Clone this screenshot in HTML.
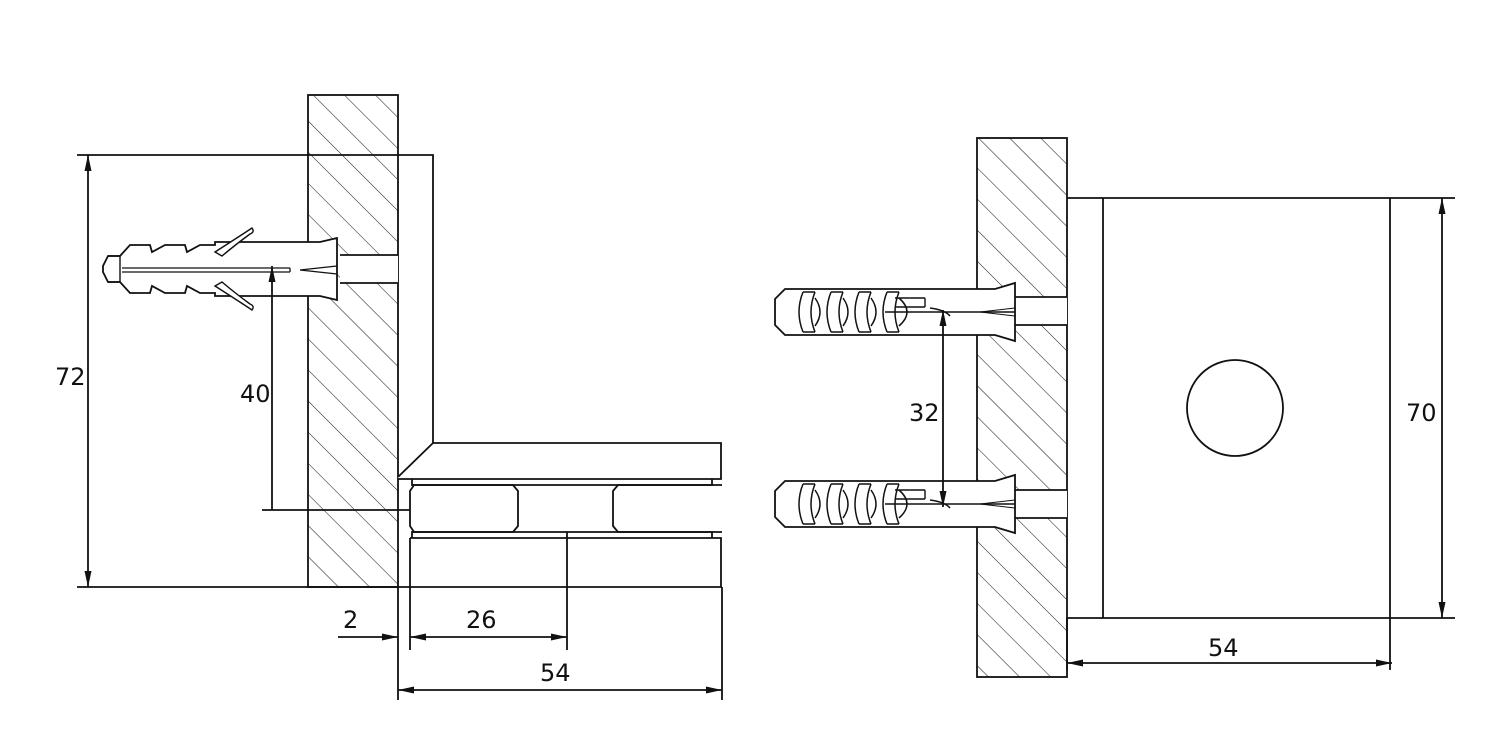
<!DOCTYPE html>
<html><head><style>body{margin:0;background:#fff}svg{display:block}text{font-family:"DejaVu Sans","Liberation Sans",sans-serif;font-size:24px;fill:#111}</style></head>
<body>
<svg width="1488" height="755" viewBox="0 0 1488 755" xmlns="http://www.w3.org/2000/svg">
<defs>
<pattern id="h" patternUnits="userSpaceOnUse" width="22" height="22" patternTransform="rotate(-45)">
<line x1="0" y1="0" x2="0" y2="22" stroke="#222" stroke-width="1.1"/>
</pattern>
<marker id="a" viewBox="0 0 16 7" refX="16" refY="3.5" markerWidth="16" markerHeight="7" orient="auto-start-reverse" markerUnits="userSpaceOnUse">
<path d="M0,0 L16,3.5 L0,7 z" fill="#111"/></marker>
<g id="dr">
<path d="M0,-23 L210,-23 L230,-29 L230,29 L210,23 L0,23 L-10,13 L-10,-13 Z" fill="#fff" stroke="#111" stroke-width="1.8"/>
<line x1="110" y1="-14" x2="140" y2="-14" stroke="#111" stroke-width="1.4"/>
<line x1="110" y1="-5" x2="140" y2="-5" stroke="#111" stroke-width="1.4"/>
<line x1="140" y1="-14" x2="140" y2="-5" stroke="#111" stroke-width="1.4"/>
<line x1="100" y1="0" x2="230" y2="0" stroke="#111" stroke-width="1.4"/>
<path d="M195,0 L230,-4 M195,0 L230,4" stroke="#111" stroke-width="1"/>
<g fill="none" stroke="#111" stroke-width="1.5">
<path d="M18,-20 Q10,0 18,20 M30,-20 Q22,0 30,20 M18,-20 L30,-20 M18,20 L30,20 M30,-14 Q40,0 30,14"/>
<path d="M46,-20 Q38,0 46,20 M58,-20 Q50,0 58,20 M46,-20 L58,-20 M46,20 L58,20 M58,-14 Q68,0 58,14"/>
<path d="M74,-20 Q66,0 74,20 M86,-20 Q78,0 86,20 M74,-20 L86,-20 M74,20 L86,20 M86,-14 Q96,0 86,14"/>
<path d="M102,-20 Q94,0 102,20 M114,-20 Q106,0 114,20 M102,-20 L114,-20 M102,20 L114,20 M114,-14 Q130,0 114,14"/>
<path d="M145,-4 Q160,-2 165,4"/>
</g>
</g>
</defs>
<g stroke="#111" stroke-width="1.8" fill="none">
<rect x="308" y="95" width="90" height="492" fill="url(#h)"/>
<rect x="340" y="255" width="58" height="28" fill="#fff" stroke="none"/>
<path d="M340,255 H398 M340,283 H398"/>
<path d="M120,256 L130,245 L150,245 L152,252 L165,245 L185,245 L187,252 L200,245 L215,245 L215,242 L320,242 L337,238 L337,300 L320,296 L215,296 L215,293 L200,293 L187,286 L185,293 L165,293 L152,286 L150,293 L130,293 L120,282 L108,282 L103,272 L103,266 L108,256 Z" fill="#fff"/>
<path d="M108,256 L120,256 M108,282 L120,282 M120,256 V282" stroke-width="1.4"/>
<path d="M215,252 Q240,236 252,228 Q255,232 250,234 Q235,245 222,256 Z" fill="#fff" stroke-width="1.4"/>
<path d="M215,286 Q240,302 252,310 Q255,306 250,304 Q235,293 222,282 Z" fill="#fff" stroke-width="1.4"/>
<path d="M122,268 H290 M122,272 H290 M290,268 V272 M300,270 L337,266 M300,270 L337,274" stroke-width="1.3"/>
<path d="M77,155 H433 V445"/>
<path d="M77,587 H722"/>
<line x1="88" y1="155" x2="88" y2="587" marker-start="url(#a)" marker-end="url(#a)"/>
<line x1="272" y1="266" x2="272" y2="510" marker-start="url(#a)"/>
<path d="M262,510 H410"/>
<path d="M398,477 L433,443 H721 V479 H398" fill="#fff"/>
<path d="M412,479 V485 H712 V479"/>
<path d="M412,538 V532 H712 V538"/>
<path d="M410,538 H721 V587"/>
<path d="M414,485 H513 L518,491 V526 L513,532 H414 L410,526 V491 Z"/>
<path d="M722,485 H618 L613,491 V526 L618,532 H722"/>
<path d="M398,587 V700 M410,538 V650 M567,532 V650 M722,587 V700"/>
<line x1="338" y1="637" x2="398" y2="637" marker-end="url(#a)"/>
<line x1="410" y1="637" x2="567" y2="637" marker-start="url(#a)" marker-end="url(#a)"/>
<line x1="398" y1="690" x2="722" y2="690" marker-start="url(#a)" marker-end="url(#a)"/>
<rect x="977" y="138" width="90" height="539" fill="url(#h)"/>
<rect x="1005" y="297" width="62" height="28" fill="#fff" stroke="none"/>
<rect x="1005" y="490" width="62" height="28" fill="#fff" stroke="none"/>
<path d="M1005,297 H1067 M1005,325 H1067 M1005,490 H1067 M1005,518 H1067"/>
<path d="M1067,198 H1455 M1067,618 H1455 M1103,198 V618 M1390,198 V670 M1067,618 V670"/>
<circle cx="1235" cy="408" r="48"/>
<line x1="1442" y1="198" x2="1442" y2="618" marker-start="url(#a)" marker-end="url(#a)"/>
<line x1="1067" y1="663" x2="1392" y2="663" marker-start="url(#a)" marker-end="url(#a)"/>
</g>
<use href="#dr" x="785" y="312"/>
<use href="#dr" x="785" y="504"/>
<line x1="943" y1="310" x2="943" y2="507" stroke="#111" stroke-width="1.8" marker-start="url(#a)" marker-end="url(#a)"/>
<text x="55" y="385">72</text>
<text x="240" y="402">40</text>
<text x="343" y="628">2</text>
<text x="466" y="628">26</text>
<text x="540" y="681">54</text>
<text x="909" y="421">32</text>
<text x="1406" y="421">70</text>
<text x="1208" y="656">54</text>
</svg>
</body></html>
